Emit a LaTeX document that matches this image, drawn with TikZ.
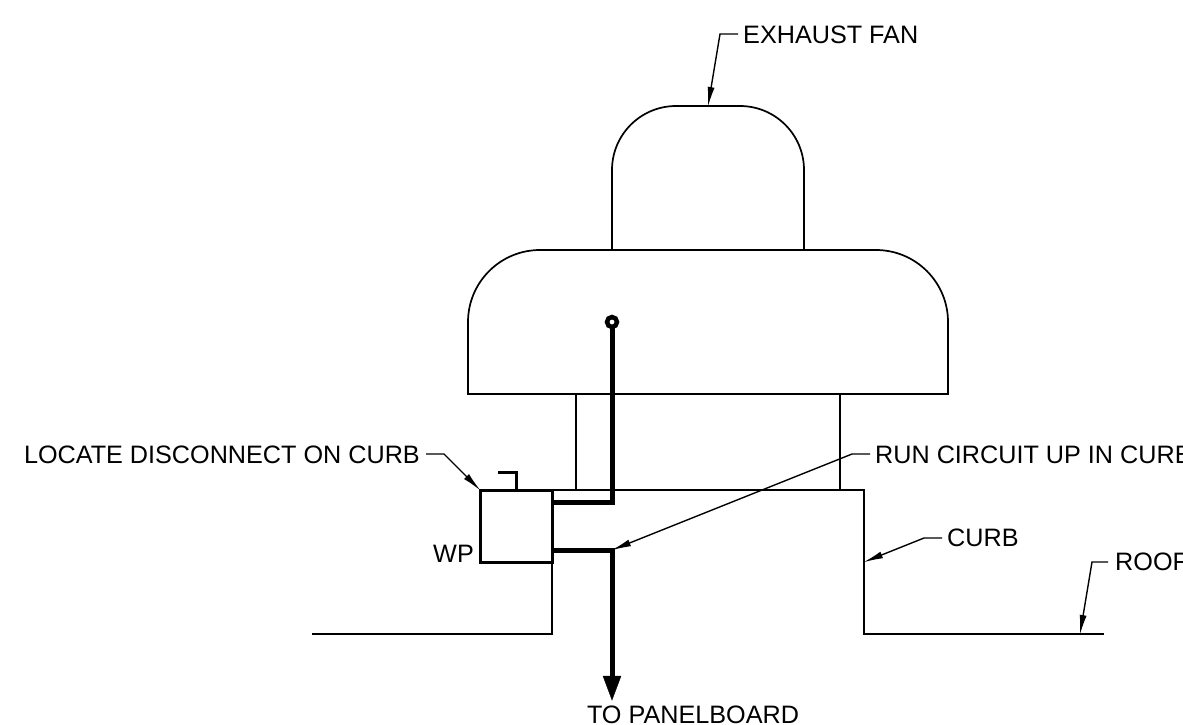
\documentclass[tikz,border=0pt]{standalone}
\usepackage{fontspec}
\setmainfont{Liberation Sans}
\usetikzlibrary{arrows.meta}
\tikzset{
  thinline/.style={line width=1.7pt, line join=miter},
  boxline/.style={line width=3pt, line join=miter},
  wire/.style={line width=5pt, line join=miter},
  leader/.style={line width=1.4pt, -{Latex[length=20pt,width=7pt]}, shorten >=-1pt},
  label/.style={inner sep=0pt, font=\fontsize{25.2}{26}\selectfont}
}

\begin{document}
\begin{tikzpicture}[x=1pt, y=-1pt]
  \useasboundingbox (0,0) rectangle (1183,724);

  \draw [thinline] (612,250) -- (612,170) arc [start angle=180, end angle=270, radius=64] -- (740,106) arc [start angle=270, end angle=360, radius=64] -- (804,250);
  \draw [thinline] (468,394) -- (468,322) arc [start angle=180, end angle=270, radius=72] -- (876,250) arc [start angle=270, end angle=360, radius=72] -- (948,394) -- cycle;
  \draw [thinline] (576,394) -- (576,490);
  \draw [thinline] (840,394) -- (840,490);
  \draw [thinline] (312,634) -- (552,634) -- (552,490) -- (864,490) -- (864,634) -- (1104,634);

  \draw [boxline, fill=white] (480,490) rectangle (552,562);
  \draw [boxline] (498,472.5) -- (516,472.5) -- (516,490);

  \coordinate (top) at (612,322);
  \coordinate (down) at (612,550);
  \draw [wire] (552,502) -- (612,502) -- (top);
  \draw [line width=4.5pt, fill=white] (top) circle [radius=5];
  \draw [wire] (552,550) -- (down) -- (612,680);
  \draw [fill=black] (603,676) -- (621,676) -- (612,700) -- cycle;

  \node [label, anchor=west] (fan) at (743,35) {EXHAUST FAN};
  \node [label, anchor=east] (locate) at (420,455) {LOCATE DISCONNECT ON CURB};
  \node [label, anchor=east] (wp) at (474,554) {WP};
  \node [label, anchor=west] (run) at (875,455) {RUN CIRCUIT UP IN CURB};
  \node [label, anchor=west] (curb) at (947,538) {CURB};
  \node [label, anchor=west] (roof) at (1115,562) {ROOF};
  \node [label, anchor=center] (panel) at (693,715) {TO PANELBOARD};

  \coordinate (fanend) at (708,106);
  \coordinate (boxcorner) at (480,490);
  \coordinate (curbend) at (864,562);
  \coordinate (roofend) at (1080,634);

  \draw [leader] (fan.west) ++(-5,-1) -- ++(-18,0) -- (fanend);
  \draw [leader] (locate.east) ++(6,-1) -- ++(18,0) -- (boxcorner);
  \draw [leader] (run.west) ++(-5,-1) -- ++(-18,0) -- (down);
  \draw [leader] (curb.west) ++(-5,0) -- ++(-18,0) -- (curbend);
  \draw [leader] (roof.west) ++(-7,0) -- ++(-16,0) -- (roofend);
\end{tikzpicture}
\end{document}
